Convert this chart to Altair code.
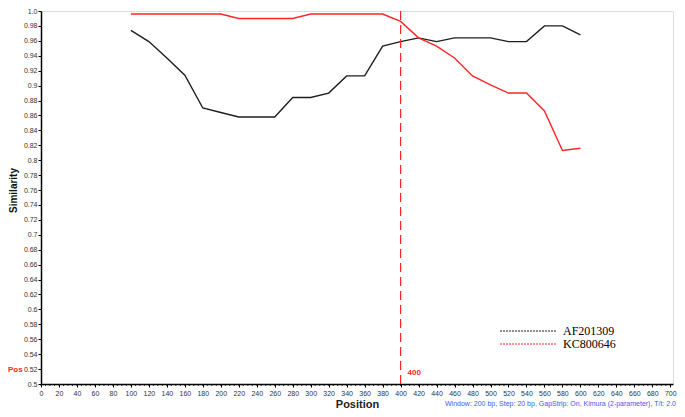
import altair as alt
import pandas as pd

# ---- data ----
positions = list(range(100, 601, 20))
af201309 = [0.974, 0.959, 0.937, 0.914, 0.870, 0.864, 0.858, 0.858, 0.858,
            0.884, 0.884, 0.890, 0.913, 0.913, 0.953, 0.959, 0.964, 0.959,
            0.964, 0.964, 0.964, 0.959, 0.959, 0.980, 0.980, 0.968]
kc800646 = [0.996, 0.996, 0.996, 0.996, 0.996, 0.996,
            0.990, 0.990, 0.990, 0.990,
            0.996, 0.996, 0.996, 0.996, 0.996,
            0.986, 0.964, 0.953, 0.937, 0.913, 0.901, 0.890, 0.890,
            0.866, 0.813, 0.816]
series_names = ["AF201309", "KC800646"]
series_colors = ["#1e1e1e", "#ff2424"]
breakpoint_pos = 400
x_ticks = list(range(0, 701, 20))
x_minor_ticks = list(range(0, 701, 5))
y_ticks = [round(0.5 + 0.02 * i, 2) for i in range(26)]
note_text = "Window: 200 bp, Step: 20 bp, GapStrip: On, Kimura (2-parameter), T/t: 2.0"

rows = []
for name, vals in zip(series_names, [af201309, kc800646]):
    for p, v in zip(positions, vals):
        rows.append({"Position": p, "Similarity": v, "Series": name})
df = pd.DataFrame(rows)

W, H = 632, 373
FONT = "Liberation Sans"
xscale = alt.Scale(domain=[0, 703], nice=False, zero=False)

x_axis = alt.Axis(
    values=x_ticks, title="Position", grid=False,
    labelFontSize=7, labelColor="#333", labelFont=FONT, labelPadding=2,
    tickSize=3, tickColor="#000", domainColor="#000", domainWidth=1.5,
    titleFont=FONT, titleFontSize=11, titleFontWeight="bold", titleColor="#222",
    titleX=316, titleY=14, titleBaseline="top", labelFlush=False, labelOverlap=False,
)


def xenc():
    return alt.X("Position:Q", scale=xscale, axis=x_axis)


y_enc = alt.Y(
    "Similarity:Q",
    scale=alt.Scale(domain=[0.5, 1.0], nice=False, zero=False),
    axis=alt.Axis(
        values=y_ticks, title="Similarity", grid=False,
        labelExpr="datum.value >= 0.999 ? '1.0' : format(datum.value, '.2~f')",
        labelFontSize=7, labelColor="#333", labelFont=FONT, labelPadding=1,
        tickSize=3, tickColor="#000", domainColor="#000", domainWidth=1.5,
        titleFont=FONT, titleFontSize=10, titleFontWeight="bold", titleColor="#111",
        titleX=-23, titleY=179, labelOverlap=False, labelFlush=False,
    ),
)

lines = alt.Chart(df).mark_line(strokeWidth=1.4).encode(
    x=xenc(),
    y=y_enc,
    color=alt.Color("Series:N",
                    scale=alt.Scale(domain=series_names, range=series_colors),
                    legend=None),
)

minor = alt.Chart(pd.DataFrame({"Position": x_minor_ticks})).mark_rule(
    color="#000", strokeWidth=0.8
).encode(x=xenc(), y=alt.value(H), y2=alt.value(H + 2))

rule = alt.Chart(pd.DataFrame({"Position": [breakpoint_pos]})).mark_rule(
    color="#ff2424", strokeDash=[9, 5], strokeWidth=1.2
).encode(x=xenc())

rule_label = alt.Chart(pd.DataFrame({"Position": [breakpoint_pos], "t": [str(breakpoint_pos)]})).mark_text(
    align="left", baseline="middle", dx=7, color="#ff2424", fontSize=8,
    fontWeight="bold", font=FONT
).encode(x=xenc(), y=alt.value(362), text="t:N")

pos_label = alt.Chart(pd.DataFrame({"t": ["Pos"]})).mark_text(
    align="left", baseline="middle", color="#ff2424", fontSize=8,
    fontWeight="bold", font=FONT
).encode(x=alt.value(-33), y=alt.value(359), text="t:N")

note = alt.Chart(pd.DataFrame({"t": [note_text]})).mark_text(
    align="right", baseline="middle", color="#3d5afe", fontSize=7, font=FONT
).encode(x=alt.value(635), y=alt.value(393), text="t:N")

legend_layers = []
for i, (name, col) in enumerate(zip(series_names, series_colors)):
    ly = 320 + 13 * i
    legend_layers.append(
        alt.Chart(pd.DataFrame({"s": [name]})).mark_rule(
            color=col, strokeDash=[2, 1], strokeWidth=1
        ).encode(x=alt.value(459), x2=alt.value(515), y=alt.value(ly))
    )
    legend_layers.append(
        alt.Chart(pd.DataFrame({"s": [name]})).mark_text(
            align="left", baseline="middle", color="#000", fontSize=12,
            font="Liberation Serif"
        ).encode(x=alt.value(522), y=alt.value(ly), text="s:N")
    )

chart = alt.layer(lines, minor, rule, rule_label, pos_label, note, *legend_layers).properties(
    width=W, height=H,
    autosize=alt.AutoSizeParams(type="none"),
    padding={"left": 33, "top": 3, "right": 4, "bottom": 25},
).configure_view(stroke="#888", strokeWidth=1).configure(background="white")

chart.save("out.html", embed_options={"renderer": "svg", "actions": False})
